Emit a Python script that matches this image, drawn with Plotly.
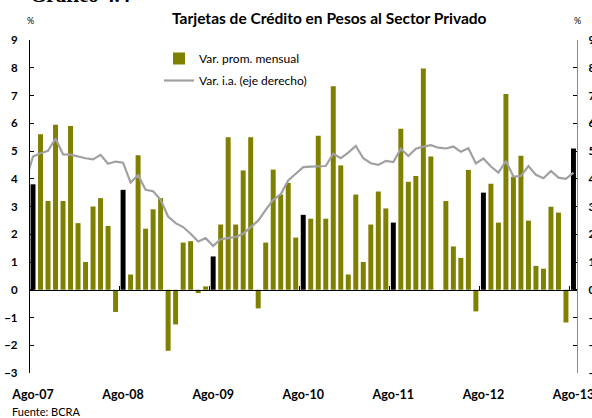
import pandas as pd
import plotly.graph_objects as go

# ---- data ----
bar_start = "2007-08"
var_prom_mensual = [
    3.8, 5.6, 3.2, 5.95, 3.2, 5.9, 2.4, 1.0, 3.0, 3.3, 2.3, -0.8,
    3.6, 0.55, 4.85, 2.2, 2.9, 3.3, -2.2, -1.25, 1.7, 1.75, -0.12, 0.12,
    1.2, 2.35, 5.5, 2.35, 4.3, 5.5, -0.67, 1.7, 4.33, 3.43, 3.85, 1.88,
    2.7, 2.56, 5.55, 2.56, 7.33, 4.48, 0.55, 3.43, 1.0, 2.35, 3.54, 2.93,
    2.42, 5.8, 3.89, 4.1, 7.97, 4.8, 0.0, 3.2, 1.56, 1.15, 4.32, -0.78,
    3.5, 3.82, 2.42, 7.05, 4.07, 4.83, 2.49, 0.86, 0.76, 2.99, 2.78, -1.18,
    5.09,
]
line_start = "2007-07"
var_ia = [
    39.0,
    48.0, 49.2, 50.1, 54.5, 48.8, 48.7, 48.0, 47.4, 47.0, 48.6, 45.4, 46.2,
    45.8, 38.6, 41.3, 36.0, 35.5, 32.4, 26.4, 24.0, 22.6, 20.2, 17.4, 18.6,
    15.8, 18.2, 18.6, 19.0, 20.2, 22.6, 24.9, 28.8, 32.4, 34.4, 39.4, 41.8,
    44.2, 44.4, 44.4, 44.6, 49.0, 47.4, 49.4, 51.8, 47.4, 45.6, 45.0, 46.4,
    46.0, 50.8, 48.2, 50.8, 51.6, 52.1, 51.2, 50.9, 51.6, 49.7, 51.0, 45.5,
    47.3, 44.4, 42.2, 46.4, 40.8, 41.0, 44.6, 41.4, 40.2, 42.8, 40.4, 40.0,
    42.2,
]
tick_labels = ["Ago-07", "Ago-08", "Ago-09", "Ago-10", "Ago-11", "Ago-12", "Ago-13"]
left_ticks = list(range(-3, 10))
right_ticks = list(range(-30, 100, 10))

# ---- positions derived from months ----
origin = pd.Period(bar_start, freq="M")
bar_periods = pd.period_range(bar_start, periods=len(var_prom_mensual), freq="M")
line_periods = pd.period_range(line_start, periods=len(var_ia), freq="M")
bx = [(p - origin).n for p in bar_periods]
lx = [(p - origin).n for p in line_periods]
is_aug = [p.month == 8 for p in bar_periods]

OLIVE = "#7f7f00"
FONT = "Lato"
W, H = 592, 418
ML, MR, MT, MB = 30, 15, 40, 45
plot_w = W - ML - MR
plot_h = H - MT - MB


def px_x(px):
    return (px - ML) / plot_w


def px_y(py):
    return (H - MB - py) / plot_h


fig = go.Figure()
fig.add_trace(go.Bar(
    x=[x for x, a in zip(bx, is_aug) if not a],
    y=[v for v, a in zip(var_prom_mensual, is_aug) if not a],
    marker=dict(color=OLIVE, line=dict(width=0)), width=0.66,
    name="Var. prom. mensual", legendgroup="a",
))
fig.add_trace(go.Bar(
    x=[x for x, a in zip(bx, is_aug) if a],
    y=[v for v, a in zip(var_prom_mensual, is_aug) if a],
    marker=dict(color="black", line=dict(width=0)), width=0.66,
    name="Ago", showlegend=False, legendgroup="c",
))
fig.add_trace(go.Scatter(
    x=lx, y=var_ia, mode="lines", yaxis="y2",
    line=dict(color="#a0a0a0", width=2.2),
    name="Var. i.a. (eje derecho)", legendgroup="b",
))
# invisible trace to carry the inside ticks on the zero line
fig.add_trace(go.Scatter(x=[bx[0], bx[-1]], y=[0, 0], xaxis="x2", mode="lines",
                         line=dict(width=0), hoverinfo="skip", showlegend=False))

fig.update_layout(
    width=W, height=H, autosize=False,
    margin=dict(l=ML, r=MR, t=MT, b=MB, autoexpand=False),
    paper_bgcolor="white", plot_bgcolor="white",
    barmode="overlay",
    font=dict(family=FONT, color="black"),
    showlegend=True,
    legend=dict(x=px_x(159), y=px_y(44), xanchor="left", yanchor="top",
                bgcolor="rgba(0,0,0,0)", font=dict(size=12, family=FONT),
                tracegroupgap=3, itemwidth=30),
    xaxis=dict(range=[-0.4, 72.47], tickvals=[0, 12, 24, 36, 48, 60, 72],
               ticktext=tick_labels, showgrid=False, zeroline=False,
               showline=False, ticks="", ticklabelstandoff=12,
               ticklabeloverflow="allow",
               tickfont=dict(size=12.5, family=FONT, weight="bold")),
    xaxis2=dict(range=[-0.4, 72.47], overlaying="x", anchor="free", position=0.25,
                showline=True, linecolor="black", linewidth=1.3,
                ticks="inside", ticklen=4, tickcolor="black",
                tickvals=[11.5, 23.5, 35.5, 47.5, 59.5, 71.5],
                showticklabels=False, showgrid=False, zeroline=False),
    yaxis=dict(range=[-3, 9], tickvals=left_ticks, showgrid=False, zeroline=False,
               showline=True, linecolor="black", linewidth=1.3,
               ticks="inside", ticklen=4, tickcolor="black",
               ticklabelstandoff=9,
               tickfont=dict(size=11.5, family=FONT, weight="bold")),
    yaxis2=dict(range=[-30, 90], tickvals=right_ticks, overlaying="y", side="right",
                showgrid=False, zeroline=False,
                showline=True, linecolor="#8a8a8a", linewidth=1.3,
                ticks="inside", ticklen=4, tickcolor="black",
                ticklabelstandoff=8, ticklabeloverflow="allow",
                tickfont=dict(size=11.5, family=FONT, weight="bold")),
    annotations=[
        dict(text="Tarjetas de Crédito en Pesos al Sector Privado", x=px_x(329), y=px_y(18),
             xref="paper", yref="paper", xanchor="center", yanchor="middle",
             showarrow=False, font=dict(size=15.5, family=FONT, weight="bold")),
        dict(text="%", x=px_x(30), y=px_y(20), xref="paper", yref="paper", xanchor="center",
             yanchor="middle", showarrow=False, font=dict(size=9, family=FONT)),
        dict(text="%", x=px_x(577), y=px_y(20), xref="paper", yref="paper", xanchor="center",
             yanchor="middle", showarrow=False, font=dict(size=9, family=FONT)),
        dict(text="Fuente: BCRA", x=px_x(10), y=px_y(412), xref="paper", yref="paper",
             xanchor="left", yanchor="middle",
             showarrow=False, font=dict(size=11, family=FONT)),
        dict(text="Gráfico 4.4", x=px_x(28), y=px_y(9), xref="paper", yref="paper",
             xanchor="left", yanchor="bottom", showarrow=False,
             font=dict(size=21, family="Liberation Serif", weight="bold")),
    ],
)

fig.write_html(
    "out.html",
    config={"responsive": False, "displayModeBar": False},
    post_script="document.body.style.margin='0';document.body.style.overflow='hidden';",
)
